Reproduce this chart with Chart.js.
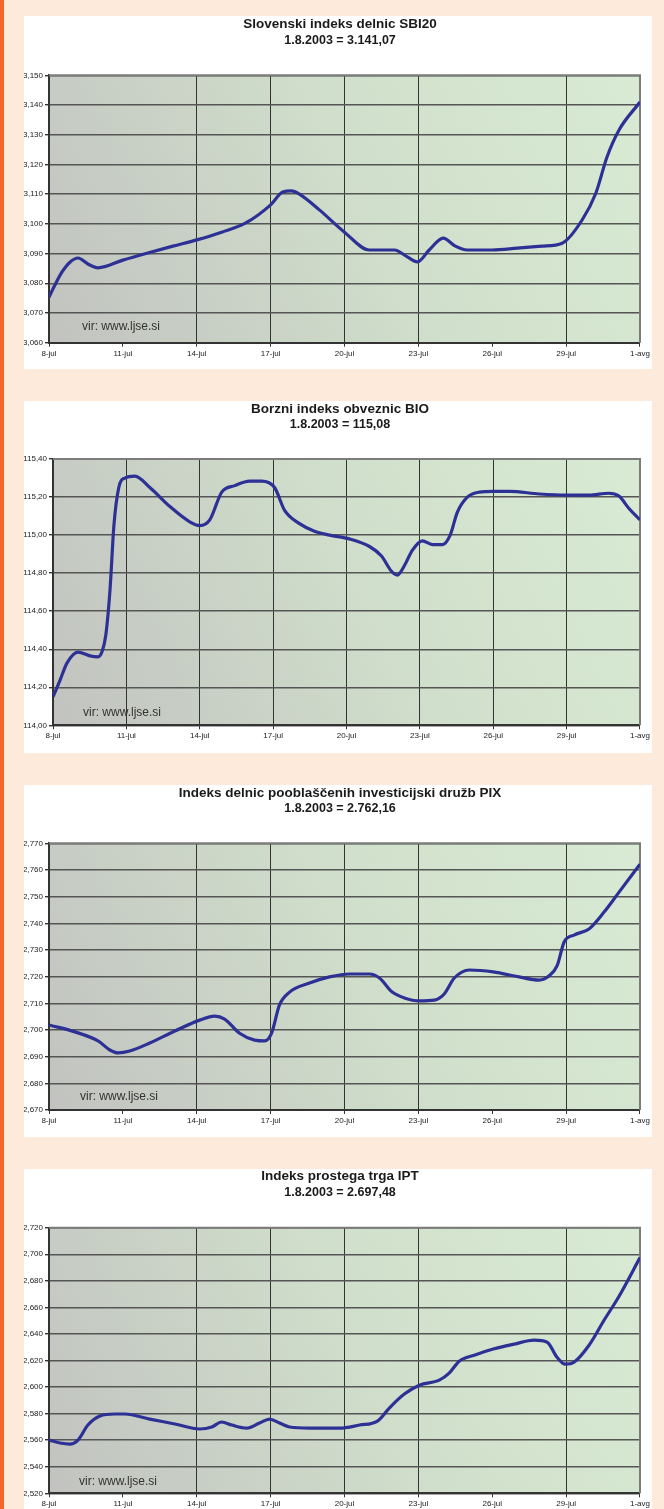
<!DOCTYPE html>
<html><head><meta charset="utf-8">
<script src="https://cdn.jsdelivr.net/npm/chart.js@4.4.1/dist/chart.umd.min.js"></script>
<style>
html,body{margin:0;padding:0;}
body{width:664px;height:1509px;background:#fdeadb;position:relative;overflow:hidden;}
#strip{position:absolute;left:0;top:0;width:4px;height:1509px;background:#f3692a;}
.panel{position:absolute;left:24px;width:628px;background:#fff;}
.panel canvas{display:block;}
</style></head><body>
<div id="strip"></div>
<div class="panel" style="top:16px;height:353px"><canvas id="c1" width="628" height="353"></canvas></div>
<div class="panel" style="top:401px;height:352px"><canvas id="c2" width="628" height="352"></canvas></div>
<div class="panel" style="top:785px;height:352px"><canvas id="c3" width="628" height="352"></canvas></div>
<div class="panel" style="top:1169px;height:352px"><canvas id="c4" width="628" height="352"></canvas></div>
<script>
// ---- DATA ----
const xTickLabels = ['8-jul','11-jul','14-jul','17-jul','20-jul','23-jul','26-jul','29-jul','1-avg'];
const sourceText = 'vir: www.ljse.si';

const sbiTitle = 'Slovenski indeks delnic SBI20';
const sbiSubtitle = '1.8.2003 = 3.141,07';
const sbiDays = [0,0.24,0.53,0.85,1.18,1.58,1.99,3.0,4.01,5.03,6.0,7.01,7.99,9.0,9.49,9.85,10.17,10.98,12.0,13.01,14.03,14.55,14.96,15.44,16.01,16.5,16.98,18.0,19.01,20.02,20.84,21.65,22.21,22.66,23.15,24];
const sbiValues = [3.0753,3.0794,3.0838,3.0871,3.0885,3.0865,3.0852,3.0878,3.0902,3.0925,3.0946,3.0972,3.1003,3.1064,3.1107,3.1111,3.1100,3.1047,3.0972,3.0912,3.0912,3.0889,3.0872,3.0912,3.0952,3.0925,3.0912,3.0912,3.0918,3.0925,3.0935,3.1013,3.1104,3.1225,3.1316,3.1410];
const sbiTicks = [3.060,3.150,0.010];

const bioTitle = 'Borzni indeks obveznic BIO';
const bioSubtitle = '1.8.2003 = 115,08';
const bioDays = [0,0.29,0.57,1.02,1.51,1.84,2.0,2.16,2.33,2.49,2.69,2.94,3.35,3.96,4.78,5.59,6.0,6.41,6.9,7.43,8.04,8.53,9.06,9.47,10.08,10.69,11.31,12.12,12.94,13.43,13.84,14.08,14.37,14.69,15.1,15.51,15.92,16.24,16.53,16.94,17.43,18.0,18.65,19.88,20.98,21.92,22.73,23.14,23.55,24.0];
const bioValues = [114.149,114.238,114.327,114.385,114.365,114.36,114.385,114.475,114.71,115.05,115.25,115.30,115.31,115.25,115.15,115.07,115.05,115.08,115.226,115.26,115.284,115.284,115.25,115.13,115.06,115.02,115.0,114.98,114.94,114.89,114.81,114.79,114.84,114.92,114.97,114.95,114.95,115.0,115.12,115.20,115.226,115.23,115.23,115.216,115.21,115.21,115.22,115.205,115.14,115.08];
const bioTicks = [114.00,115.40,0.20];

const pixTitle = 'Indeks delnic pooblaščenih investicijski družb PIX';
const pixSubtitle = '1.8.2003 = 2.762,16';
const pixDays = [0,1.05,1.99,2.47,2.80,3.28,4.09,5.11,6.12,6.73,7.13,7.74,8.35,8.76,9.04,9.36,9.77,10.58,11.39,12.2,13.01,13.42,13.94,14.43,15.04,15.65,16.05,16.46,17.07,18.04,19.09,19.9,20.31,20.63,20.92,21.32,21.93,22.54,23.15,24];
const pixValues = [2.7019,2.6993,2.6959,2.6925,2.6914,2.6921,2.6951,2.6996,2.7037,2.7052,2.7041,2.6988,2.6962,2.6959,2.6988,2.7094,2.7142,2.7176,2.7199,2.7210,2.7210,2.7195,2.7142,2.7120,2.7109,2.7112,2.7135,2.7195,2.7225,2.7218,2.7199,2.7187,2.7203,2.7240,2.7330,2.7356,2.7379,2.7442,2.7517,2.7622];
const pixTicks = [2.670,2.770,0.010];

const iptTitle = 'Indeks prostega trga IPT';
const iptSubtitle = '1.8.2003 = 2.697,48';
const iptDays = [0,0.45,0.85,1.18,1.58,2.07,2.68,3.08,4.09,5.11,6.12,6.61,7.01,7.42,8.03,8.55,8.96,9.36,9.77,10.58,11.8,12.61,13.34,13.82,14.43,15.04,15.85,16.25,16.66,17.27,18.04,18.89,19.7,20.23,20.63,20.96,21.32,21.93,22.54,23.15,24];
const iptValues = [2.5601,2.5579,2.5571,2.5601,2.5714,2.5782,2.5797,2.5797,2.5759,2.5722,2.5684,2.5699,2.5737,2.5714,2.5691,2.5729,2.5759,2.5729,2.5699,2.5691,2.5691,2.5714,2.5744,2.5842,2.5947,2.6014,2.6052,2.6105,2.6195,2.6240,2.6286,2.6323,2.6353,2.6338,2.6225,2.6172,2.6187,2.6315,2.6503,2.6684,2.6975];
const iptTicks = [2.520,2.720,0.020];

// ---- DRAWING ----
const TICK_FONT = {family:'"Liberation Sans", Arial, sans-serif', size:8};

const deco = {
  id:'deco',
  beforeDraw(chart, args, o){
    const {ctx, chartArea:a} = chart;
    const g = ctx.createLinearGradient(a.left, a.bottom, a.right, a.top);
    g.addColorStop(0,'#c2c3c0');
    g.addColorStop(0.55,'#d0dfcb');
    g.addColorStop(1,'#d9ebd4');
    ctx.save();
    ctx.fillStyle = g;
    ctx.fillRect(a.left, a.top, a.right-a.left, a.bottom-a.top);
    ctx.restore();
  },
  beforeDatasetsDraw(chart, args, o){
    const {ctx, chartArea:a} = chart;
    ctx.save();
    ctx.strokeStyle = '#7c7c7c';
    ctx.lineWidth = 2;
    ctx.beginPath();
    ctx.moveTo(a.left, a.top); ctx.lineTo(a.right, a.top); ctx.lineTo(a.right, a.bottom);
    ctx.stroke();
    ctx.fillStyle = '#333';
    ctx.font = '12px "Liberation Sans", Arial, sans-serif';
    ctx.textAlign = 'left';
    ctx.textBaseline = 'middle';
    ctx.fillText(o.source, a.left + o.srcDx, a.bottom - o.srcDy);
    ctx.restore();
  },
  afterDraw(chart, args, o){
    const ctx = chart.ctx;
    ctx.save();
    ctx.fillStyle = '#1a1a1a';
    ctx.textAlign = 'center';
    ctx.textBaseline = 'middle';
    ctx.font = 'bold 13.5px "Liberation Sans", Arial, sans-serif';
    ctx.fillText(o.title, o.cx, o.titleY);
    ctx.font = 'bold 12.5px "Liberation Sans", Arial, sans-serif';
    ctx.fillText(o.subtitle, o.cx, o.subY);
    ctx.restore();
  }
};

function makeChart(id, days, values, ticks, title, subtitle, lay){
  const [ymin, ymax, ystep] = ticks;
  const dec = ystep < 0.1 ? 3 : 2;
  const pts = days.map((d,i)=>({x:d, y:values[i]}));
  const canvas = document.getElementById(id);
  return new Chart(canvas, {
    type:'line',
    data:{datasets:[{data:pts, borderColor:'#2d3195', borderWidth:3.2, pointRadius:0, cubicInterpolationMode:'monotone', fill:false}]},
    options:{
      responsive:false, animation:false, devicePixelRatio:1,
      layout:{padding:{top:lay.plotTop, right:11, left:0, bottom:0}},
      plugins:{legend:{display:false}, tooltip:{enabled:false},
        deco:{title:title, subtitle:subtitle, source:sourceText, cx:316, titleY:lay.titleY, subY:lay.subY, srcDx:lay.srcDx, srcDy:lay.srcDy}},
      scales:{
        x:{type:'linear', min:0, max:24,
          afterFit:s=>{s.height = canvas.height - lay.plotBottom;},
          ticks:{stepSize:3, autoSkip:false, maxRotation:0, padding:2, color:'#222', font:TICK_FONT,
            callback:v=>xTickLabels[Math.round(v/3)]},
          grid:{color:c=>{const v=c.tick?c.tick.value:0; if(lay.hideX.includes(v)) return 'rgba(0,0,0,0)'; return v===24?'#7c7c7c':'#333333';},
            lineWidth:1, tickLength:4, tickColor:'#333', drawTicks:true},
          border:{display:true, color:'#333', width:2}
        },
        y:{min:ymin, max:ymax,
          afterFit:s=>{s.width = lay.plotLeft;},
          ticks:{stepSize:ystep, padding:2, color:'#222', font:TICK_FONT,
            callback:v=>v.toFixed(dec).replace('.',',')},
          grid:{color:'#555555', lineWidth:1.4, tickLength:4, tickColor:'#333'},
          border:{display:true, color:'#333', width:2}
        }
      }
    },
    plugins:[deco]
  });
}

makeChart('c1', sbiDays, sbiValues, sbiTicks, sbiTitle, sbiSubtitle,
  {plotLeft:25, plotTop:59.3, plotBottom:326.7, titleY:8.5, subY:24.5, srcDx:33, srcDy:15.7, hideX:[3,18]});
makeChart('c2', bioDays, bioValues, bioTicks, bioTitle, bioSubtitle,
  {plotLeft:29, plotTop:58, plotBottom:324.3, titleY:8.5, subY:24, srcDx:30, srcDy:12.3, hideX:[]});
makeChart('c3', pixDays, pixValues, pixTicks, pixTitle, pixSubtitle,
  {plotLeft:25, plotTop:58.3, plotBottom:325, titleY:8.5, subY:24, srcDx:31, srcDy:13, hideX:[3,18]});
makeChart('c4', iptDays, iptValues, iptTicks, iptTitle, iptSubtitle,
  {plotLeft:25, plotTop:58.7, plotBottom:324.3, titleY:7.5, subY:23.5, srcDx:30, srcDy:11.3, hideX:[3,18]});
</script>
</body></html>
